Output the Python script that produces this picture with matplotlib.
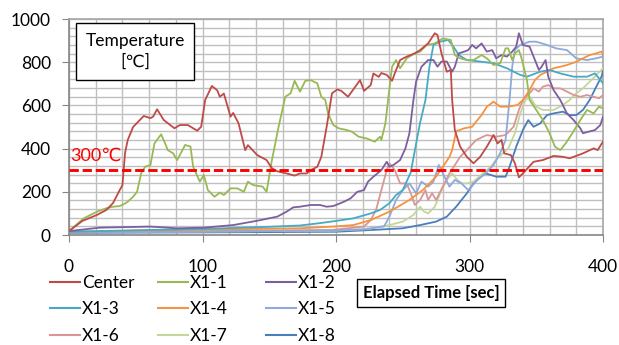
import matplotlib
matplotlib.use("Agg")
import matplotlib.pyplot as plt
from matplotlib.lines import Line2D
from matplotlib.patches import Rectangle
from matplotlib.ticker import MultipleLocator

plt.rcParams['font.family'] = ['Lato', 'DejaVu Sans']

# Données (temps [s], température [°C])
t_center = [0, 10, 21, 28, 33, 38, 40, 42, 44, 48, 56, 61, 63, 66, 71, 79, 83, 89, 96, 99,
            102, 107, 111, 113, 116, 121, 123, 127, 132, 134, 141, 148, 152, 156, 163, 169, 173, 178, 181, 186,
            189, 193, 197, 201, 204, 209, 213, 218, 221, 226, 228, 232, 234, 238, 242, 244, 248, 253, 259, 263,
            269, 274, 276, 279, 283, 286, 287, 289, 293, 298, 303, 308, 313, 318, 321, 324, 326, 331, 334, 337,
            340, 348, 355, 363, 370, 375, 385, 393, 396, 400]
T_center = [18, 65, 93, 116, 148, 208, 230, 380, 440, 500, 551, 541, 548, 582, 532, 494, 509, 509, 483, 501,
            625, 690, 670, 640, 655, 548, 565, 517, 393, 416, 370, 347, 309, 295, 285, 275, 285, 285, 300, 316,
            362, 501, 656, 674, 667, 640, 674, 717, 667, 694, 748, 732, 750, 741, 714, 748, 810, 826, 841, 856,
            887, 934, 926, 841, 756, 764, 625, 486, 409, 362, 332, 362, 409, 463, 424, 440, 378, 370, 332, 267,
            285, 339, 347, 366, 362, 355, 378, 401, 393, 432]

t_x11 = [0, 11, 21, 28, 33, 38, 42, 44, 48, 51, 54, 57, 61, 64, 69, 72, 74, 78, 81, 85,
         87, 91, 93, 98, 101, 104, 109, 113, 116, 121, 126, 131, 134, 138, 145, 148, 152, 157, 162, 166,
         169, 173, 177, 181, 186, 189, 192, 194, 198, 202, 208, 212, 217, 223, 229, 233, 234, 237, 239, 242,
         245, 248, 253, 259, 263, 268, 274, 280, 286, 289, 293, 298, 303, 309, 313, 318, 323, 327, 329, 332,
         334, 337, 339, 343, 345, 350, 355, 360, 364, 368, 372, 377, 383, 388, 393, 397, 400]
T_x11 = [18, 77, 108, 124, 131, 134, 146, 154, 177, 200, 285, 316, 324, 424, 466, 424, 393, 378, 347, 393,
         417, 409, 316, 247, 278, 208, 177, 196, 185, 216, 216, 200, 247, 231, 224, 200, 347, 501, 640, 656,
         714, 664, 714, 717, 702, 640, 625, 563, 509, 494, 486, 478, 455, 447, 432, 455, 440, 517, 625, 779,
         810, 772, 818, 841, 849, 880, 887, 910, 903, 833, 818, 810, 810, 833, 818, 787, 795, 864, 864, 810,
         841, 856, 818, 717, 625, 579, 532, 471, 409, 393, 424, 471, 532, 579, 563, 594, 586]

t_x12 = [0, 23, 61, 81, 101, 123, 141, 156, 163, 168, 173, 181, 188, 193, 198, 206, 211, 216, 221, 224,
         228, 234, 238, 240, 243, 248, 252, 255, 258, 260, 264, 269, 273, 276, 279, 283, 287, 289, 292, 296,
         299, 302, 305, 309, 313, 317, 320, 324, 328, 332, 335, 337, 340, 345, 348, 352, 354, 357, 359, 363,
         368, 373, 378, 383, 385, 389, 394, 398, 400]
T_x12 = [18, 34, 39, 31, 34, 46, 66, 85, 108, 128, 131, 139, 139, 131, 134, 154, 170, 200, 208, 247,
         270, 300, 339, 316, 324, 347, 401, 471, 625, 710, 779, 810, 810, 779, 803, 803, 756, 779, 841, 849,
         856, 880, 864, 887, 849, 856, 818, 833, 826, 849, 872, 934, 880, 872, 826, 764, 779, 810, 733, 671,
         625, 563, 532, 494, 471, 478, 486, 509, 548]

t_x13 = [0, 50, 100, 150, 173, 188, 201, 213, 226, 233, 240, 245, 250, 256, 259, 263, 267, 270, 273, 278,
         284, 288, 292, 298, 308, 318, 328, 338, 343, 353, 360, 368, 378, 388, 394, 400]
T_x13 = [15, 22, 28, 38, 44, 55, 66, 77, 100, 116, 147, 185, 208, 290, 390, 520, 625, 779, 880, 895,
         903, 872, 833, 810, 803, 795, 772, 741, 733, 756, 764, 748, 733, 733, 748, 702]

t_x14 = [0, 50, 100, 150, 173, 198, 213, 226, 240, 255, 265, 275, 280, 285, 287, 290, 296, 302, 305, 309,
         313, 318, 323, 329, 336, 340, 345, 349, 353, 358, 363, 368, 373, 380, 385, 390, 395, 399, 400]
T_x14 = [15, 20, 25, 29, 31, 39, 46, 69, 108, 162, 208, 270, 316, 362, 393, 480, 494, 501, 525, 555,
         594, 617, 594, 594, 602, 625, 671, 717, 741, 756, 772, 779, 787, 802, 818, 833, 841, 849, 833]

t_x15 = [0, 100, 180, 200, 220, 236, 240, 245, 250, 255, 260, 264, 269, 273, 277, 280, 285, 289, 294, 299,
         306, 312, 318, 323, 327, 330, 332, 334, 338, 345, 350, 358, 365, 373, 380, 388, 395, 400]
T_x15 = [12, 16, 20, 22, 25, 40, 85, 162, 208, 239, 193, 247, 224, 247, 324, 285, 224, 255, 239, 208,
         255, 285, 324, 380, 440, 625, 779, 856, 880, 895, 895, 880, 864, 856, 818, 810, 818, 826]

t_x16 = [0, 100, 196, 221, 226, 230, 234, 238, 240, 244, 248, 253, 257, 259, 263, 267, 269, 272, 275, 280,
         285, 293, 298, 305, 313, 320, 327, 333, 337, 340, 345, 348, 352, 355, 359, 363, 368, 373, 378, 383,
         388, 393, 397, 400]
T_x16 = [14, 18, 23, 39, 69, 116, 208, 301, 332, 301, 239, 239, 177, 139, 162, 208, 162, 193, 162, 224,
         285, 362, 393, 440, 463, 455, 463, 501, 579, 625, 656, 679, 664, 687, 694, 679, 679, 664, 648, 640,
         648, 640, 633, 648]

t_x17 = [0, 100, 200, 226, 240, 250, 258, 263, 266, 269, 274, 278, 283, 287, 290, 294, 298, 303, 310, 316,
         320, 329, 334, 338, 342, 345, 350, 355, 363, 370, 375, 380, 385, 390, 395, 400]
T_x17 = [13, 16, 20, 30, 46, 62, 93, 131, 108, 100, 131, 193, 255, 285, 262, 239, 239, 247, 285, 316,
         350, 400, 471, 563, 625, 640, 594, 579, 579, 602, 625, 656, 679, 710, 741, 772]

t_x18 = [0, 100, 200, 226, 250, 263, 275, 283, 290, 298, 303, 308, 312, 316, 320, 323, 327, 330, 335, 340,
         344, 348, 353, 358, 363, 370, 375, 380, 385, 390, 395, 399, 400]
T_x18 = [10, 12, 15, 23, 31, 46, 62, 85, 131, 193, 239, 270, 285, 278, 270, 270, 270, 316, 409, 486,
         532, 501, 517, 555, 563, 571, 555, 555, 579, 625, 687, 735, 760]

labels = ["Center", "X1-1", "X1-2", "X1-3", "X1-4", "X1-5", "X1-6", "X1-7", "X1-8"]
times = [t_center, t_x11, t_x12, t_x13, t_x14, t_x15, t_x16, t_x17, t_x18]
temps = [T_center, T_x11, T_x12, T_x13, T_x14, T_x15, T_x16, T_x17, T_x18]
colors = ['#BE4B48', '#98B954', '#7D5FA0', '#46AAC5', '#F69240',
          '#8EA9DB', '#DA9694', '#C3D69B', '#4A7EBB']

W, H = 619, 345
fig = plt.figure(figsize=(W / 100, H / 100), dpi=100)
ax = fig.add_axes([69 / W, 1 - 235 / H, 534 / W, 216 / H])

# ordre de tracé : les dernières séries en dessous
for t, T, c, lab in reversed(list(zip(times, temps, colors, labels))):
    ax.plot(t, T, color=c, lw=1.3, label=lab, zorder=3)

ax.axhline(300, color='#FF0000', lw=2.1, dashes=(3.2, 1.3), zorder=4)
ax.text(1, 345, "300℃", color='#FF0000', fontsize=13, ha='left', va='baseline', zorder=5)

ax.set_xlim(0, 400)
ax.set_ylim(0, 1000)
ax.xaxis.set_major_locator(MultipleLocator(100))
ax.xaxis.set_minor_locator(MultipleLocator(20))
ax.yaxis.set_major_locator(MultipleLocator(200))
ax.yaxis.set_minor_locator(MultipleLocator(40))
ax.grid(which='both', color='#BFBFBF', lw=1.0, zorder=0)
ax.set_axisbelow(True)
ax.tick_params(which='major', length=5, color='#868686', labelsize=12.5, direction='out')
ax.tick_params(axis='x', pad=12)
ax.tick_params(axis='y', pad=8)
ax.tick_params(which='minor', length=0)
for s in ax.spines.values():
    s.set_color('#A6A6A6')
    s.set_linewidth(1.2)
ax.spines['left'].set_color('#868686')
ax.spines['bottom'].set_color('#868686')

# boîte "Temperature [°C]"
fig.patches.append(Rectangle((76 / W, 1 - 80 / H), 118 / W, 57 / H, transform=fig.transFigure,
                             facecolor='white', edgecolor='black', lw=1.0, zorder=5))
fig.text(135 / W, 1 - 51 / H, "Temperature\n[℃]", ha='center', va='center', fontsize=12.5,
         linespacing=1.35, zorder=6)

# boîte "Elapsed Time [sec]"
fig.text(431 / W, 1 - 293 / H, "Elapsed Time [sec]", ha='center', va='center', fontsize=12,
         fontweight='bold', bbox=dict(boxstyle='square,pad=0.35', facecolor='white', edgecolor='black', lw=1.0))

# légende en trois colonnes
handles = {lab: Line2D([], [], color=c, lw=1.5) for lab, c in zip(labels, colors)}
col_x = [50, 158, 266]
for i, x0 in enumerate(col_x):
    labs = labels[i::3]
    fig.legend([handles[l] for l in labs], labs, loc='upper left',
               bbox_to_anchor=(x0 / W, 1 - 275 / H), frameon=False, fontsize=12.5,
               handlelength=1.7, handletextpad=0.15, labelspacing=0.6, borderpad=0, borderaxespad=0)

fig.savefig("out.png", dpi=100)
